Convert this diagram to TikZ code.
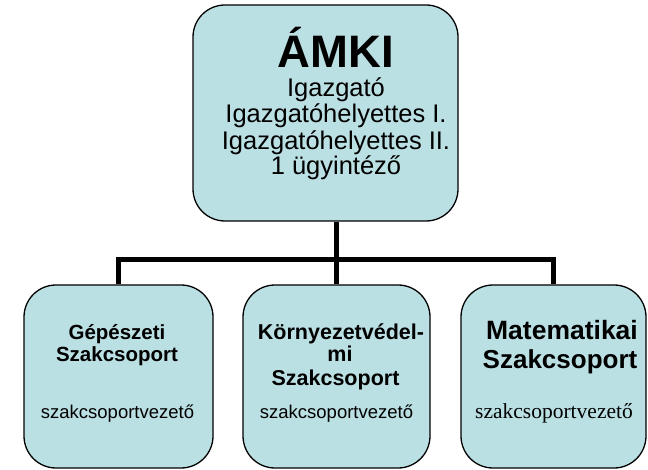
\documentclass[tikz,border=0pt]{standalone}
\usepackage{fontspec}
\setmainfont{Liberation Sans}
\newfontfamily\timesfont{Liberation Serif}
\usepackage{xcolor}
\usepackage{tikz}
\definecolor{boxfill}{HTML}{BBE0E3}

\begin{document}
\begin{tikzpicture}[x=1pt,y=1pt,
    unitbox/.style={draw=black, line width=1.3pt, fill=boxfill, rounded corners=32pt, inner sep=0pt},
    link/.style={line width=5pt, black, line join=miter},
    txt/.style={anchor=base, inner sep=0pt}]
            \useasboundingbox (0,0) rectangle (648,469);
            % boxes
            \node [unitbox, minimum width=265pt, minimum height=216pt] (amki) at (325.5,356) {};
            \node [unitbox, minimum width=189pt, minimum height=183pt] (gep) at (118.5,92.5) {};
            \node [unitbox, minimum width=187pt, minimum height=183pt] (korny) at (336.5,92.5) {};
            \node [unitbox, minimum width=185pt, minimum height=183pt] (mat) at (553.5,92.5) {};
            % connectors
            \coordinate (bar) at (0,209);
            \draw [link] (korny.north |- amki.south) -- (korny.north);
            \draw [link] (gep.north) -- (gep.north |- bar) -- (mat.north |- bar) -- (mat.north);
            % top box texts
            \node [txt] (amkititle) at (336,401) {\fontsize{45.5}{45.5}\selectfont\bfseries ÁMKI};
            \node [txt] (igazg) at (336,372) {\fontsize{25.5}{25.5}\selectfont Igazgató};
            \node [txt] (helyI) at (336,346) {\fontsize{25.5}{25.5}\selectfont Igazgatóhelyettes I.};
            \node [txt] (helyII) at (336,319) {\fontsize{25.5}{25.5}\selectfont Igazgatóhelyettes II.};
            \node [txt] (ugyint) at (336,294) {\fontsize{25.5}{25.5}\selectfont 1 ügyintéző};
            % left box
            \node [txt] (gepa) at (117,129) {\fontsize{20.5}{20.5}\selectfont\bfseries Gépészeti};
            \node [txt] (gepb) at (117,107) {\fontsize{20.5}{20.5}\selectfont\bfseries Szakcsoport};
            \node [txt] (gepc) at (117.5,51) {\fontsize{18.5}{18.5}\selectfont szakcsoportvezető};
            % middle box
            \node [txt] (kornya) at (341,129) {\fontsize{21.5}{21.5}\selectfont\bfseries Környezetvédel-};
            \node [txt] (kornyb) at (340,107) {\fontsize{21.5}{21.5}\selectfont\bfseries mi};
            \node [txt] (kornyc) at (335.5,84) {\fontsize{21.5}{21.5}\selectfont\bfseries Szakcsoport};
            \node [txt] (kornyd) at (336.5,51) {\fontsize{18.5}{18.5}\selectfont szakcsoportvezető};
            % right box
            \node [txt] (mata) at (562,130) {\fontsize{26.5}{26.5}\selectfont\bfseries Matematikai};
            \node [txt] (matb) at (560,101) {\fontsize{26}{26}\selectfont\bfseries Szakcsoport};
            \node [txt] (matc) at (554,51) {\timesfont\fontsize{21.5}{21.5}\selectfont szakcsoportvezető};
\end{tikzpicture}
\end{document}
